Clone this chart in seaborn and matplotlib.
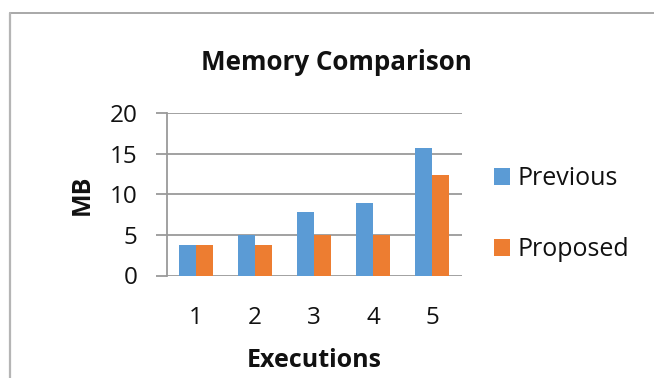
import matplotlib
matplotlib.use("Agg")
import matplotlib.pyplot as plt
from matplotlib.patches import Patch
from matplotlib.lines import Line2D
import seaborn as sns
import pandas as pd

# Memory usage (MB) per execution run
executions = ["1", "2", "3", "4", "5"]
previous = [3.75, 5.0, 7.85, 9.0, 15.7]
proposed = [3.75, 3.75, 5.0, 5.0, 12.4]
series_names = ["Previous", "Proposed"]
colors = ["#5B9BD5", "#ED7D31"]
y_ticks = [0, 5, 10, 15, 20]

df = pd.DataFrame({
    "Executions": executions * 2,
    "MB": previous + proposed,
    "Series": [series_names[0]] * len(executions) + [series_names[1]] * len(executions),
})

sns.set_theme(style="white")
plt.rcParams["font.family"] = ["Open Sans", "DejaVu Sans"]

W, H = 654, 378
fig = plt.figure(figsize=(W / 100, H / 100), dpi=100)

# plot area in pixel coordinates
left, right, top, bottom = 166.7, 461.7, 113.3, 275.5
ax = fig.add_axes([left / W, 1 - bottom / H, (right - left) / W, (bottom - top) / H])

sns.barplot(data=df, x="Executions", y="MB", hue="Series", palette=colors,
            saturation=1, width=0.58, gap=0, linewidth=0, ax=ax, legend=False,
            zorder=3)

ax.set_ylim(0, 20)
ax.set_yticks(y_ticks)
ax.set_xlim(-0.5, len(executions) - 0.5)
ax.grid(axis="y", color="#9a9a9a", linewidth=1.3, zorder=0)
ax.set_axisbelow(True)
for side in ["top", "right", "bottom"]:
    ax.spines[side].set_visible(False)
ax.spines["left"].set_color("#9a9a9a")
ax.spines["left"].set_linewidth(1.3)
ax.tick_params(axis="y", length=8, width=1.3, color="#9a9a9a", labelsize=17.5, pad=13,
               left=True, labelcolor="#111111")
ax.tick_params(axis="x", length=0, labelsize=17.5, pad=22, labelcolor="#111111")
ax.set_xlabel("")
ax.set_ylabel("")

def px(x, y):
    return x / W, 1 - y / H

fig.text(*px(336.5, 70), "Memory Comparison", ha="center", va="baseline",
         fontsize=18.7, fontweight="bold", color="#111111")
fig.text(*px(314.5, 366.7), "Executions", ha="center", va="baseline",
         fontsize=18, fontweight="bold", color="#111111")
fig.text(*px(82, 195), "MB", ha="center", va="center", rotation=90,
         fontsize=18, fontweight="bold", color="#111111")

handles = [Patch(facecolor=c, edgecolor="none") for c in colors]
fig.legend(handles, series_names, loc="upper left", bbox_to_anchor=px(494, 166),
           frameon=False, fontsize=18, handlelength=0.65, handleheight=0.65,
           handletextpad=0.3, labelspacing=1.85, borderaxespad=0, borderpad=0,
           labelcolor="#111111")

# chart frame
fig.add_artist(Line2D([10 / W, 1.0], [1 - 13 / H] * 2, color="#9a9a9a", linewidth=1.2,
                      transform=fig.transFigure))
fig.add_artist(Line2D([10 / W] * 2, [1 - 13 / H, 0.0], color="#b5b5b5", linewidth=1.6,
                      transform=fig.transFigure))

fig.savefig("out.png", dpi=100, facecolor="white")
